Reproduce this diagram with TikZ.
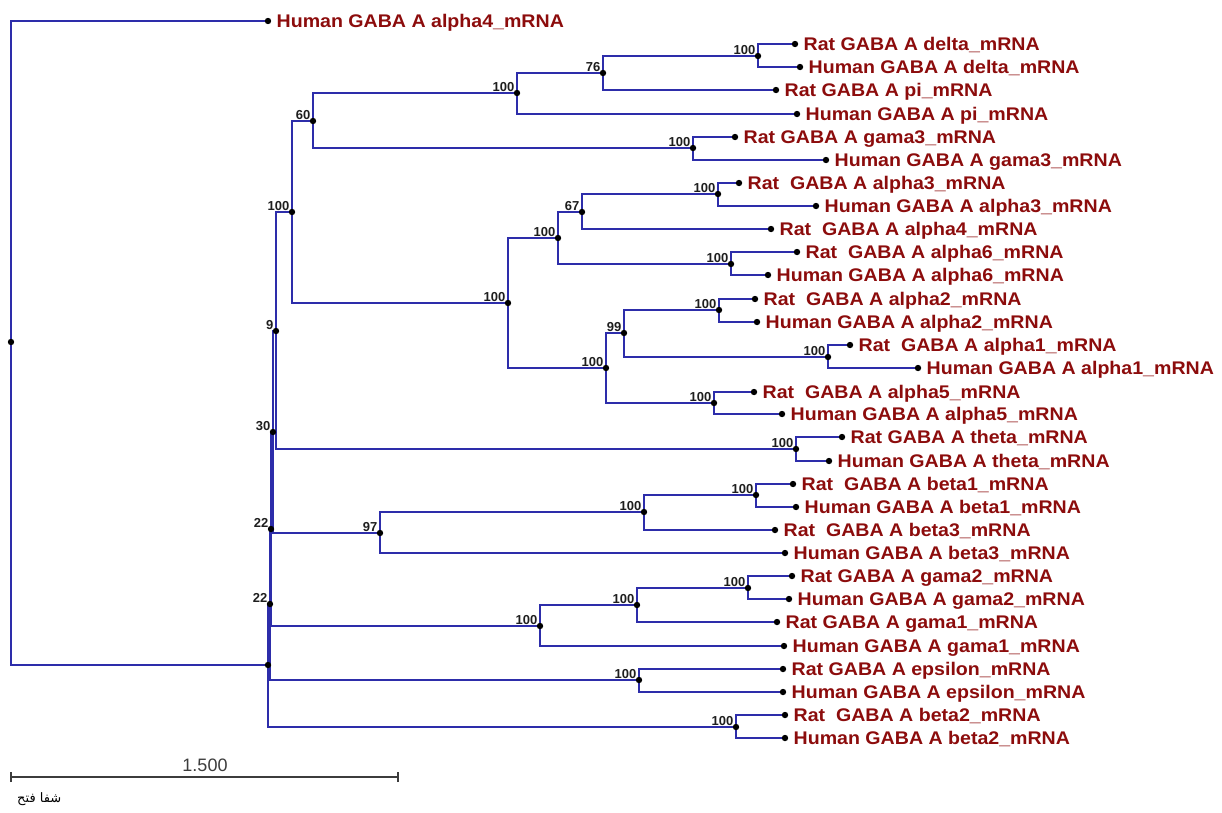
\documentclass[tikz,border=0pt]{standalone}
\usepackage{fontspec}
\setmainfont{Liberation Sans}
\newfontfamily\lab[FakeStretch=1.07]{Liberation Sans}
\newfontfamily\arabicfont[Script=Arabic]{DejaVu Sans}
\TeXXeTstate=1
\definecolor{treeblue}{RGB}{45,45,170}
\definecolor{labred}{RGB}{140,12,12}
\definecolor{bootgray}{RGB}{30,30,30}
\definecolor{scalegray}{RGB}{60,60,60}
\begin{document}
\begin{tikzpicture}[x=1pt,y=-1pt,
  br/.style={draw=treeblue,line width=1.3pt},
  nd/.style={circle,inner sep=0pt,minimum size=6pt},
  leaf/.style={font=\lab\bfseries\fontsize{18.3}{20}\selectfont,text=labred,anchor=base west,inner sep=0pt},
  boot/.style={font=\bfseries\fontsize{13}{14}\selectfont,text=bootgray,anchor=south east,inner sep=0pt}]
\useasboundingbox (0,0) rectangle (1222,812);
% internal nodes
\foreach \n/\x/\y in {root/11/342,A/268/665,nb/270/604,na/271/529,n30/273/432,n9/276/331,
  p100a/292/212,n60/313/121,p100b/517/93,n76/603/73,ndelta/758/56,ngama3/693/148,
  p100c/508/303,p100d/558/238,n67/582/212,nalpha3/718/194,nalpha6/731/264,
  p100e/606/368,n99/624/333,nalpha2/719/310,nalpha1/828/357,nalpha5/714/403,
  ntheta/796/449,n97/380/533,nbeta13/644/512,nbeta1/756/495,ngam/540/626,
  ngam21/637/605,ngama2/748/588,neps/639/680,nbeta2/736/727}
  {\node[nd] (\n) at (\x,\y) {};}
% leaves
\foreach \n/\x/\y in {halpha4/268/21,rdelta/795/44,hdelta/800/67,rpi/776/90,hpi/797/114,
  rgama3/735/137,hgama3/826/160,ralpha3/739/183,halpha3/816/206,ralpha4/771/229,
  ralpha6/797/252,halpha6/768/275,ralpha2/755/299,halpha2/757/322,ralpha1/850/345,
  halpha1/918/368,ralpha5/754/392,halpha5/782/414,rtheta/842/437,htheta/829/461,
  rbeta1/793/484,hbeta1/796/507,rbeta3/775/530,hbeta3/785/553,rgama2/792/576,
  hgama2/789/599,rgama1/777/622,hgama1/784/646,reps/783/669,heps/783/692,
  rbeta2/785/715,hbeta2/785/738}
  {\node[nd] (\n) at (\x,\y) {};}
% branches
\foreach \p/\c in {root/halpha4,root/A,A/nb,A/nbeta2,nb/na,nb/neps,na/n30,na/ngam,
  n30/n9,n30/n97,n9/p100a,n9/ntheta,p100a/n60,p100a/p100c,n60/p100b,n60/ngama3,
  p100b/n76,p100b/hpi,n76/ndelta,n76/rpi,ndelta/rdelta,ndelta/hdelta,
  ngama3/rgama3,ngama3/hgama3,p100c/p100d,p100c/p100e,p100d/n67,p100d/nalpha6,
  n67/nalpha3,n67/ralpha4,nalpha3/ralpha3,nalpha3/halpha3,nalpha6/ralpha6,nalpha6/halpha6,
  p100e/n99,p100e/nalpha5,n99/nalpha2,n99/nalpha1,nalpha2/ralpha2,nalpha2/halpha2,
  nalpha1/ralpha1,nalpha1/halpha1,nalpha5/ralpha5,nalpha5/halpha5,
  ntheta/rtheta,ntheta/htheta,n97/nbeta13,n97/hbeta3,nbeta13/nbeta1,nbeta13/rbeta3,
  nbeta1/rbeta1,nbeta1/hbeta1,ngam/ngam21,ngam/hgama1,ngam21/ngama2,ngam21/rgama1,
  ngama2/rgama2,ngama2/hgama2,neps/reps,neps/heps,nbeta2/rbeta2,nbeta2/hbeta2}
  {\draw[br] (\p.center) |- (\c.center);}
% dots on top
\foreach \n in {root,A,nb,na,n30,n9,p100a,n60,p100b,n76,ndelta,ngama3,p100c,p100d,n67,
  nalpha3,nalpha6,p100e,n99,nalpha2,nalpha1,nalpha5,ntheta,n97,nbeta13,nbeta1,ngam,
  ngam21,ngama2,neps,nbeta2,halpha4,rdelta,hdelta,rpi,hpi,rgama3,hgama3,ralpha3,halpha3,
  ralpha4,ralpha6,halpha6,ralpha2,halpha2,ralpha1,halpha1,ralpha5,halpha5,rtheta,htheta,
  rbeta1,hbeta1,rbeta3,hbeta3,rgama2,hgama2,rgama1,hgama1,reps,heps,rbeta2,hbeta2}
  {\fill (\n.center) circle (3.2pt);}
% bootstrap labels
\foreach \n/\t in {nb/22,na/22,n30/30,n9/9,p100a/100,n60/60,p100b/100,n76/76,ndelta/100,
  ngama3/100,p100c/100,p100d/100,n67/67,nalpha3/100,nalpha6/100,p100e/100,n99/99,
  nalpha2/100,nalpha1/100,nalpha5/100,ntheta/100,n97/97,nbeta13/100,nbeta1/100,
  ngam/100,ngam21/100,ngama2/100,neps/100,nbeta2/100}
  {\node[boot] (b\n) at ([xshift=-2.5pt,yshift=1.5pt]\n.center) {\t};}
% leaf labels
\foreach \n/\t in {halpha4/{Human GABA A alpha4\_mRNA},
  rdelta/{Rat GABA A delta\_mRNA},hdelta/{Human GABA A delta\_mRNA},
  rpi/{Rat GABA A pi\_mRNA},hpi/{Human GABA A pi\_mRNA},
  rgama3/{Rat GABA A gama3\_mRNA},hgama3/{Human GABA A gama3\_mRNA},
  ralpha3/{Rat\ \ GABA A alpha3\_mRNA},halpha3/{Human GABA A alpha3\_mRNA},
  ralpha4/{Rat\ \ GABA A alpha4\_mRNA},
  ralpha6/{Rat\ \ GABA A alpha6\_mRNA},halpha6/{Human GABA A alpha6\_mRNA},
  ralpha2/{Rat\ \ GABA A alpha2\_mRNA},halpha2/{Human GABA A alpha2\_mRNA},
  ralpha1/{Rat\ \ GABA A alpha1\_mRNA},halpha1/{Human GABA A alpha1\_mRNA},
  ralpha5/{Rat\ \ GABA A alpha5\_mRNA},halpha5/{Human GABA A alpha5\_mRNA},
  rtheta/{Rat GABA A theta\_mRNA},htheta/{Human GABA A theta\_mRNA},
  rbeta1/{Rat\ \ GABA A beta1\_mRNA},hbeta1/{Human GABA A beta1\_mRNA},
  rbeta3/{Rat\ \ GABA A beta3\_mRNA},hbeta3/{Human GABA A beta3\_mRNA},
  rgama2/{Rat GABA A gama2\_mRNA},hgama2/{Human GABA A gama2\_mRNA},
  rgama1/{Rat GABA A gama1\_mRNA},hgama1/{Human GABA A gama1\_mRNA},
  reps/{Rat GABA A epsilon\_mRNA},heps/{Human GABA A epsilon\_mRNA},
  rbeta2/{Rat\ \ GABA A beta2\_mRNA},hbeta2/{Human GABA A beta2\_mRNA}}
  {\node[leaf] (t\n) at ([xshift=8.5pt,yshift=-6.5pt]\n.center) {\t};}
% scale bar
\coordinate (sb1) at (11,777);
\coordinate (sb2) at (398,777);
\draw[scalegray,line width=1.3pt] (sb1) -- (sb2);
\draw[scalegray,line width=1.1pt] ([yshift=-5pt]sb1) -- ([yshift=5pt]sb1);
\draw[scalegray,line width=1.1pt] ([yshift=-5pt]sb2) -- ([yshift=5pt]sb2);
\node[font=\fontsize{18}{20}\selectfont,text=scalegray,anchor=base,inner sep=0pt] (sbl) at (205,771) {1.500};
% signature
\node[font=\arabicfont\fontsize{13}{14}\selectfont,anchor=west,inner sep=0pt] (sig) at (17,799) {\beginR شفا فتح\endR};
\end{tikzpicture}
\end{document}
